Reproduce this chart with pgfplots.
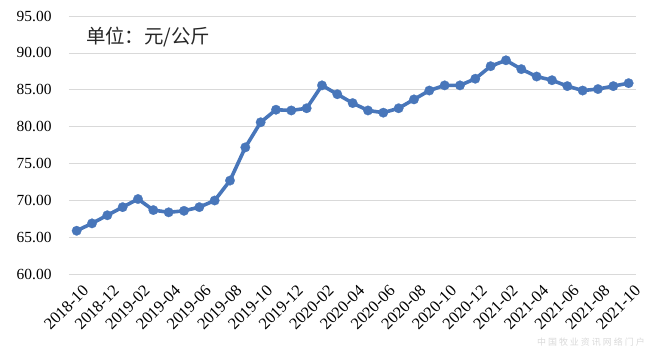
\documentclass[border=0pt]{standalone}
\usepackage{pgfplots}
\pgfplotsset{compat=1.18}
\usepackage{fontspec}
\setmainfont{Liberation Serif}
\newfontfamily\cjk{Noto Sans CJK SC}
\definecolor{lineblue}{RGB}{72,118,186}
\definecolor{gridgray}{RGB}{217,217,217}
\begin{document}
\begin{tikzpicture}
\useasboundingbox (-69bp,-77.7bp) rectangle (587bp,274.3bp);
\begin{axis}[
  scale only axis,
  width=567.3bp, height=258.3bp,
  xmin=-0.5, xmax=36.5,
  ymin=60, ymax=95,
  ytick={60,65,...,95},
  xtick={0,2,...,36},
  xticklabels={2018-10,2018-12,2019-02,2019-04,2019-06,2019-08,2019-10,2019-12,2020-02,2020-04,2020-06,2020-08,2020-10,2020-12,2021-02,2021-04,2021-06,2021-08,2021-10},
  axis line style={draw=none},
  major tick length=0pt,
  ymajorgrids,
  grid style={gridgray, line width=0.8pt},
  yticklabel style={font=\fontsize{15.5}{15.5}\selectfont, xshift=-14bp},
  xticklabel style={font=\fontsize{16.5}{16.5}\selectfont, rotate=45, anchor=north east, xshift=0bp, yshift=-7bp},
  /pgf/number format/.cd, fixed, zerofill, precision=2, assume math mode=true,
  clip=false,
]
\addplot[color=lineblue, line width=3.6pt, mark=*, mark size=4.8pt, mark options={solid, fill=lineblue, draw=lineblue, line width=0.2pt}] coordinates {
(0,65.9) (1,66.9) (2,68.0) (3,69.1) (4,70.2) (5,68.7) (6,68.4) (7,68.6) (8,69.1) (9,70.0)
(10,72.7) (11,77.2) (12,80.6) (13,82.3) (14,82.2) (15,82.5) (16,85.6) (17,84.4) (18,83.2) (19,82.2)
(20,81.9) (21,82.5) (22,83.7) (23,84.9) (24,85.6) (25,85.6) (26,86.5) (27,88.2) (28,89.0) (29,87.8)
(30,86.8) (31,86.3) (32,85.5) (33,84.9) (34,85.1) (35,85.5) (36,85.9)
};
\node[anchor=west, inner sep=0pt, font=\cjk\fontsize{19.5}{19.5}\selectfont, text=black!85] at (axis cs:0.6,92.2) {单位：元/公斤};
\end{axis}
\node[anchor=east, inner sep=0pt, font=\cjk\fontsize{9}{9}\selectfont, text=black!15] at (576bp,-68bp) {中\ 国\ 牧\ 业\ 资\ 讯\ 网\ 络\ 门\ 户};
\end{tikzpicture}
\end{document}
